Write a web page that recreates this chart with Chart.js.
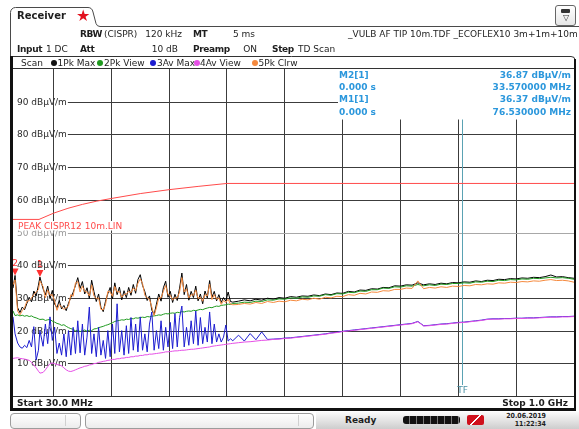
<!DOCTYPE html>
<html><head><meta charset="utf-8">
<script src="https://cdn.jsdelivr.net/npm/chart.js@4.4.0/dist/chart.umd.min.js"></script>
<style>
html,body{margin:0;padding:0;background:#fff;}
#wrap{position:relative;width:579px;height:429px;overflow:hidden;font-family:"DejaVu Sans",Verdana,sans-serif;background:#fff;}
#c{position:absolute;left:0;top:0;}
.t{position:absolute;font-size:9px;line-height:12px;height:12px;white-space:nowrap;color:#1e1e1e;}
.b{font-weight:bold;letter-spacing:-0.35px;}
.dot{position:absolute;width:6px;height:6px;border-radius:50%;top:59.5px;}
.sbox{position:absolute;top:413px;height:14px;border:1px solid #9c9c9c;border-radius:4px;background:linear-gradient(#ffffff,#ececec);}
.sdiv{position:absolute;top:415px;height:11px;border-left:1px solid #d0d0d0;}
.clk{position:absolute;right:33px;font-size:7px;line-height:9px;height:9px;font-weight:bold;white-space:nowrap;color:#1e1e1e;font-family:'DejaVu Sans Condensed','DejaVu Sans',sans-serif;}
</style></head>
<body><div id="wrap">
<canvas id="c" width="579" height="429"></canvas>

<!-- tab and header -->
<div class="t b" style="left:17px;top:10px;font-size:10px;letter-spacing:0;">Receiver</div>
<div class="t" style="left:76px;top:8px;font-size:16px;line-height:16px;height:16px;color:#e3121e;">★</div>
<div style="position:absolute;left:555px;top:5px;width:19px;height:19px;border:1px solid #666;border-radius:3px;background:linear-gradient(#fff,#e6e6e6);">
  <div style="position:absolute;left:5px;top:3px;width:9px;height:4px;background:#333;border-radius:1px;"></div>
  <div style="position:absolute;left:4px;top:7px;width:12px;font-size:8px;line-height:9px;color:#333;text-align:center;">▽</div>
</div>

<div class="t b" style="left:80px;top:28px;">RBW</div>
<div class="t" style="left:104px;top:28px;">(CISPR)</div>
<div class="t" style="right:397px;top:28px;">120 kHz</div>
<div class="t b" style="left:193px;top:28px;">MT</div>
<div class="t" style="right:324px;top:28px;">5 ms</div>
<div class="t" style="left:348px;top:28px;">_VULB AF TIP 10m.TDF _ECOFLEX10 3m+1m+10m</div>

<div class="t b" style="left:17px;top:42.5px;">Input</div>
<div class="t" style="left:46px;top:42.5px;">1 DC</div>
<div class="t b" style="left:80px;top:42.5px;">Att</div>
<div class="t" style="right:401px;top:42.5px;">10 dB</div>
<div class="t b" style="left:193px;top:42.5px;">Preamp</div>
<div class="t" style="right:322px;top:42.5px;">ON</div>
<div class="t b" style="left:272px;top:42.5px;">Step</div>
<div class="t" style="left:298px;top:42.5px;">TD Scan</div>

<!-- trace legend row -->
<div class="t" style="left:21px;top:56.5px;">Scan</div>
<div class="dot" style="left:51px;background:#111;"></div>
<div class="t" style="left:57.5px;top:56.5px;">1Pk Max</div>
<div class="dot" style="left:97px;background:#1f9a1f;"></div>
<div class="t" style="left:104px;top:56.5px;">2Pk View</div>
<div class="dot" style="left:150px;background:#1c1cd0;"></div>
<div class="t" style="left:157px;top:56.5px;">3Av Max</div>
<div class="dot" style="left:193.5px;background:#e64ee6;"></div>
<div class="t" style="left:200px;top:56.5px;">4Av View</div>
<div class="dot" style="left:252px;background:#f5893d;"></div>
<div class="t" style="left:258.5px;top:56.5px;">5Pk Clrw</div>

<!-- span row -->
<div class="t b" style="left:17px;top:396.5px;letter-spacing:0;">Start 30.0 MHz</div>
<div class="t b" style="right:11px;top:396.5px;letter-spacing:0;">Stop 1.0 GHz</div>

<!-- status bar -->
<div class="sbox" style="left:10px;width:69px;"></div>
<div class="sdiv" style="left:65px;"></div>
<div class="sbox" style="left:85px;width:227px;"></div>
<div class="sdiv" style="left:298px;"></div>
<div style="position:absolute;left:316px;top:412px;width:263px;height:17px;background:linear-gradient(#fbfbfb,#cdcdcd);"></div>
<div class="t b" style="left:345px;top:414px;letter-spacing:0;">Ready</div>
<div style="position:absolute;left:403px;top:416px;width:57px;height:8px;border-radius:3px;background:repeating-linear-gradient(90deg,#111 0px,#111 6px,#777 6px,#777 7px);"></div>
<div style="position:absolute;left:467px;top:415px;width:17px;height:10px;border-radius:2px;background:linear-gradient(135deg,#d0101c 45%,#fff 45%,#fff 55%,#d0101c 55%);"></div>
<div class="clk" style="top:411.5px;">20.06.2019</div>
<div class="clk" style="top:419.5px;">11:22:34</div>
</div>

<script>
// Sweep frequencies (MHz) shared by all five traces
const freqMHz = [
  30,33.57,38,42,46,50,54,58,62,66,70,74,
  76.53,82,86,90,94,98,102,106,110,114,118,122,
  126,130,134,138,142,146,150,154,158,162,166,170,
  174,178,182,186,190,194,198,202,206,210,214,218,
  222,226,230,234,238,242,246,250,254,258,262,266,
  270,274,278,282,286,290,294,298,302,306,310,314,
  318,322,326,330,334,338,342,346,350,354,358,362,
  366,370,374,378,382,386,390,394,398,402,406,410,
  420,430,440,450,460,470,480,490,500,510,520,530,
  540,550,560,570,580,590,600,610,620,630,640,650,
  660,670,680,690,700,710,720,730,740,750,760,770,
  780,790,800,810,820,830,840,850,860,870,880,890,
  900,910,920,930,940,950,960,970,980,990,1000
];

// Trace 1: peak detector, max hold (dBµV/m)
const pkMax = [
  33.0,36.87,27.0,25.5,27.2,26.4,28.3,30.2,28.8,32.1,30.6,33.9,
  36.37,32.8,30.9,33.6,29.8,32.3,28.1,27.0,29.2,26.6,27.7,26.1,
  28.4,30.1,31.7,33.8,36.2,32.9,35.0,31.2,33.1,29.8,35.4,31.9,
  28.9,31.2,27.1,25.8,29.0,31.3,33.2,29.7,34.6,31.0,33.3,29.4,
  32.2,30.1,33.2,30.8,34.1,31.4,35.6,37.1,33.8,31.9,29.2,30.6,
  26.3,24.9,28.1,31.2,29.0,33.1,35.1,30.2,32.0,28.6,31.1,29.2,
  33.0,37.6,31.0,34.1,29.3,32.0,30.1,33.6,29.1,31.2,28.2,32.1,
  30.0,35.3,30.2,32.0,29.1,31.0,28.6,30.1,29.0,31.8,28.9,28.7,
  29.0,29.4,29.1,29.6,29.3,29.9,29.6,30.1,29.9,30.4,30.2,30.6,
  30.5,30.9,30.7,31.2,31.0,31.5,31.4,32.0,31.8,32.4,32.3,32.8,
  32.7,33.2,33.1,33.7,33.6,34.0,33.9,34.6,34.0,34.3,34.1,34.5,
  34.3,34.7,34.6,34.9,34.8,35.2,35.0,35.4,35.3,35.7,35.6,35.9,
  35.8,36.1,36.0,36.3,36.2,36.5,37.0,36.4,36.5,36.2,36.0
];

// Trace 2: peak detector, view
const pkView = [
  26.0,24.6,24.8,24.5,24.7,24.4,24.6,24.3,24.5,24.1,23.9,23.6,
  23.4,23.5,23.1,23.3,23.4,22.9,22.6,22.2,22.0,21.6,21.8,21.3,
  20.9,20.6,20.4,19.9,20.1,19.7,19.9,20.2,19.8,20.1,20.0,20.5,
  20.6,20.9,21.1,21.3,21.6,21.8,22.1,22.4,22.8,23.0,23.1,23.3,
  23.2,23.5,23.4,23.7,23.6,23.9,23.8,24.0,24.1,24.0,24.3,24.2,
  24.4,24.5,24.6,24.8,24.7,25.0,25.2,25.1,25.3,25.4,25.3,25.6,
  25.5,25.8,25.7,25.9,26.0,25.9,26.2,26.1,26.3,26.5,26.4,26.7,
  26.9,27.1,27.0,27.3,27.5,27.4,27.7,27.8,27.9,28.1,28.0,28.3,
  28.4,28.7,28.6,29.0,28.9,29.4,29.3,29.7,29.6,30.0,29.9,30.3,
  30.2,30.6,30.5,31.0,30.8,31.3,31.2,31.7,31.6,32.1,32.0,32.5,
  32.5,33.0,32.9,33.4,33.3,33.7,33.6,34.1,33.7,34.0,33.8,34.2,
  34.1,34.4,34.4,34.6,34.5,34.9,34.8,35.1,35.0,35.4,35.3,35.6,
  35.5,35.8,35.7,36.0,35.9,36.1,36.3,36.1,36.2,36.0,35.7
];

// Trace 3: average detector, max hold
const avMax = [
  24.2,19.0,16.2,15.0,14.6,15.5,14.8,17.0,15.0,21.2,11.0,14.0,
  20.0,15.2,22.0,16.0,24.2,17.0,21.0,13.0,16.2,12.5,19.0,12.0,
  20.0,12.5,21.0,13.0,23.0,13.2,22.0,12.5,18.0,27.2,13.0,19.0,
  12.0,21.0,12.5,17.0,11.5,20.0,12.0,22.0,13.0,28.2,13.5,20.0,
  12.5,21.5,13.0,24.0,14.0,22.0,13.5,24.2,14.0,19.0,13.5,22.0,
  25.7,14.0,20.0,14.5,23.0,14.0,21.0,15.0,22.5,14.5,25.2,15.0,
  24.0,27.5,15.0,21.0,15.5,23.0,16.0,26.0,15.5,24.0,16.0,21.0,
  16.5,25.7,16.0,22.0,16.5,19.0,16.5,18.0,21.7,16.8,17.5,16.9,
  18.6,16.8,19.1,17.2,19.6,17.3,17.4,17.5,17.7,17.8,18.0,18.2,
  18.4,18.6,18.8,19.0,19.3,19.5,19.8,20.0,20.2,20.4,20.6,20.8,
  21.0,21.2,21.4,21.6,21.8,22.0,22.2,22.8,21.5,21.6,21.8,22.0,
  22.1,22.3,22.5,22.6,22.8,23.0,23.2,23.5,23.6,23.6,23.7,23.7,
  23.8,23.8,23.9,23.9,24.0,24.1,24.2,24.2,24.3,24.3,24.4
];

// Trace 4: average detector, view
const avView = [
  11.5,11.6,11.7,11.5,11.4,11.3,11.1,10.9,10.3,9.5,8.6,7.6,
  7.0,7.2,8.0,9.0,9.9,10.1,9.9,9.6,9.5,9.2,8.6,8.0,
  7.6,7.5,7.7,8.0,8.3,8.6,8.8,9.1,9.2,9.5,9.6,9.9,
  10.0,10.3,10.4,10.6,10.7,10.9,11.0,11.2,11.2,11.4,11.4,11.6,
  11.6,11.8,11.8,12.0,12.0,12.2,12.2,12.4,12.4,12.6,12.6,12.8,
  12.8,12.9,13.0,13.1,13.2,13.3,13.5,13.5,13.6,13.7,13.8,13.8,
  13.9,14.0,14.0,14.1,14.2,14.3,14.3,14.4,14.5,14.6,14.7,14.8,
  14.9,15.0,15.2,15.3,15.4,15.5,15.6,15.7,15.8,15.9,16.0,16.1,
  16.3,16.5,16.6,16.8,17.0,17.1,17.3,17.4,17.6,17.7,17.9,18.1,
  18.3,18.5,18.7,18.9,19.2,19.4,19.7,19.9,20.1,20.3,20.5,20.7,
  20.9,21.1,21.3,21.5,21.7,21.9,22.1,22.7,21.4,21.5,21.7,21.9,
  22.0,22.2,22.4,22.5,22.7,22.9,23.1,23.4,23.5,23.5,23.6,23.6,
  23.7,23.7,23.8,23.8,23.9,24.0,24.1,24.1,24.2,24.2,24.3
];

// Trace 5: peak detector, clear/write
const pkClrw = [
  34.0,35.5,26.0,24.8,26.1,27.0,29.0,29.1,30.0,31.0,31.8,32.5,
  35.2,33.5,30.0,32.4,30.8,31.0,29.0,26.2,28.0,27.2,26.5,27.0,
  27.5,31.0,30.5,34.6,35.0,31.8,33.6,32.0,31.8,30.6,34.0,30.5,
  29.8,30.0,26.5,26.3,28.0,32.0,31.8,30.5,33.5,31.8,32.0,30.2,
  31.0,31.2,32.0,31.6,33.0,32.2,34.5,35.8,34.4,30.8,30.0,29.6,
  27.2,24.6,27.0,30.0,30.0,32.0,33.8,31.0,30.8,29.4,30.0,30.0,
  31.8,36.2,31.8,32.8,30.0,31.0,30.8,32.4,29.8,30.2,29.0,31.0,
  30.6,34.2,29.5,31.0,29.6,30.0,28.0,29.2,28.6,29.6,28.1,27.9,
  28.0,28.3,28.1,28.6,28.3,28.9,28.6,29.0,28.8,29.3,29.1,29.6,
  29.4,29.9,29.6,30.2,30.0,30.5,30.4,31.0,30.8,31.4,31.2,31.8,
  31.7,32.2,32.1,32.6,32.6,33.0,32.9,35.2,32.8,33.2,33.0,33.4,
  33.2,33.6,33.5,33.8,33.7,34.1,34.0,34.3,34.2,34.6,34.5,34.8,
  34.7,35.0,34.9,35.2,35.1,35.4,35.6,35.3,35.4,35.2,34.8
];

// Limit line PEAK CISPR12 10m
const limitFreqMHz = [30, 75, 100, 125, 150, 175, 200, 250, 300, 350, 400, 1000];
const limitLevel   = [54, 54, 55.9, 57.4, 58.6, 59.6, 60.4, 61.9, 63.1, 64.1, 65, 65];

// Axis grid
const levelTicks = [10, 20, 30, 40, 50, 60, 70, 80, 90];
const freqGridMHz = [100, 200, 300, 400, 500, 600, 700, 800, 900];

// Markers
const markerNames   = ['M1', 'M2'];
const markerFreqMHz = [76.53, 33.57];
const markerLevel   = [36.37, 36.87];
const markerTime    = [0.000, 0.000];
const transducerFreqMHz = 807;

const pts = (xs, ys) => xs.map((x, i) => ({ x, y: ys[i] }));
const FONT = '"DejaVu Sans", Verdana, sans-serif';
const READOUT = '#2b97dc';

const overlay = {
  id: 'receiverOverlay',
  beforeDatasetsDraw(chart) {
    const { ctx, chartArea: a, scales: { x, y } } = chart;
    ctx.save();
    ctx.font = '9px ' + FONT;
    ctx.textBaseline = 'middle';
    ctx.textAlign = 'left';
    // horizontal grid with level labels
    levelTicks.forEach(v => {
      const py = Math.round(y.getPixelForValue(v)) + 0.5;
      const txt = v + ' dBµV/m';
      const grey = v === 50;
      ctx.fillStyle = grey ? '#9a9a9a' : '#2a2a2a';
      ctx.fillText(txt, a.left + 4, py);
      const w = ctx.measureText(txt).width;
      ctx.strokeStyle = grey ? '#a8a8a8' : '#3c3c3c';
      ctx.lineWidth = 1;
      ctx.beginPath();
      ctx.moveTo(a.left + 4 + w + 1, py);
      ctx.lineTo(a.right, py);
      ctx.stroke();
    });
    // limit line name
    ctx.fillStyle = '#fff';
    ctx.fillRect(a.left + 3, 221, 108, 9.5);
    ctx.fillStyle = '#ff4b4b';
    ctx.fillText('PEAK CISPR12 10m.LIN', a.left + 5, 226.3);

    // transducer frequency line
    const tx = Math.round(x.getPixelForValue(transducerFreqMHz)) + 0.5;
    ctx.strokeStyle = '#5aa2b3';
    ctx.beginPath();
    ctx.moveTo(tx, a.top + 50);
    ctx.lineTo(tx, 385);
    ctx.stroke();
    ctx.fillStyle = '#4a90a3';
    ctx.textAlign = 'center';
    ctx.fillText('TF', tx, 390.7);

    // marker readout panel
    ctx.fillStyle = '#fff';
    ctx.fillRect(338, a.top, a.right - 338, 50.5);
    ctx.font = 'bold 9px ' + FONT;
    ctx.fillStyle = READOUT;
    const rows = [75.5, 87.7, 99.9, 112.2];
    [1, 0].forEach((m, k) => {
      ctx.textAlign = 'left';
      ctx.fillText(markerNames[m] + '[1]', 339, rows[2 * k]);
      ctx.fillText(markerTime[m].toFixed(3) + ' s', 339, rows[2 * k + 1]);
      ctx.textAlign = 'right';
      ctx.fillText(markerLevel[m].toFixed(2) + ' dBµV/m', 571, rows[2 * k]);
      ctx.fillText(markerFreqMHz[m].toFixed(6) + ' MHz', 571, rows[2 * k + 1]);
    });
    ctx.restore();
  },
  afterDatasetsDraw(chart) {
    const { ctx, scales: { x, y } } = chart;
    ctx.save();
    ctx.font = '9px ' + FONT;
    ctx.textAlign = 'center';
    ctx.textBaseline = 'middle';
    markerFreqMHz.forEach((f, i) => {
      const px = x.getPixelForValue(f), py = y.getPixelForValue(markerLevel[i]);
      ctx.fillStyle = '#ff3030';
      ctx.beginPath();
      ctx.moveTo(px - 3.5, py - 7);
      ctx.lineTo(px + 3.5, py - 7);
      ctx.lineTo(px, py);
      ctx.closePath();
      ctx.fill();
      ctx.fillText(markerNames[i].slice(1), px, py - 12);
    });
    ctx.restore();
  },
  afterDraw(chart) {
    const { ctx, chartArea: a } = chart;
    ctx.save();
    ctx.strokeStyle = '#4a4a4a';
    ctx.lineWidth = 1;
    // tab outline
    ctx.beginPath();
    ctx.moveTo(10.5, 57);
    ctx.lineTo(10.5, 13);
    ctx.arcTo(10.5, 7.5, 16, 7.5, 5);
    ctx.lineTo(88, 7.5);
    ctx.quadraticCurveTo(92, 7.5, 93, 12);
    ctx.lineTo(96, 23.5);
    ctx.quadraticCurveTo(97, 26.5, 100, 26.5);
    ctx.lineTo(579, 26.5);
    ctx.stroke();
    // diagram frame
    ctx.strokeStyle = '#333';
    ctx.beginPath();
    ctx.moveTo(12, 56.5); ctx.lineTo(571, 56.5);
    ctx.quadraticCurveTo(575, 56.5, 575, 60);
    ctx.stroke();
    ctx.beginPath();
    ctx.moveTo(12, a.top - 0.5); ctx.lineTo(a.right, a.top - 0.5);
    ctx.moveTo(12, a.bottom + 0.5); ctx.lineTo(a.right, a.bottom + 0.5);
    ctx.stroke();
    ctx.fillStyle = '#111';
    ctx.fillRect(10, 56, 3, 355);
    ctx.fillRect(10, 408, 566, 3);
    ctx.fillRect(574, 59, 2, 352);
    // resize grip
    ctx.strokeStyle = '#8a8a8a';
    for (let k = 0; k < 4; k++) {
      ctx.beginPath();
      ctx.moveTo(569 + k * 3, 429);
      ctx.lineTo(579, 419 + k * 3);
      ctx.stroke();
    }
    ctx.restore();
  }
};

const trace = (label, ys, color, order) => ({
  label, data: pts(freqMHz, ys), borderColor: color, borderWidth: 1,
  pointRadius: 0, tension: 0, fill: false, order
});

new Chart(document.getElementById('c'), {
  type: 'line',
  data: {
    datasets: [
      { label: 'PEAK CISPR12 10m.LIN', data: pts(limitFreqMHz, limitLevel), borderColor: '#ff4b4b',
        borderWidth: 1, pointRadius: 0, tension: 0, fill: false, order: 0 },
      trace('4Av View', avView, '#e64ee6', 1),
      trace('3Av Max', avMax, '#1c1cd0', 2),
      trace('5Pk Clrw', pkClrw, '#f5893d', 3),
      trace('2Pk View', pkView, '#1f9a1f', 4),
      trace('1Pk Max', pkMax, '#000000', 5)
    ]
  },
  options: {
    responsive: false,
    animation: false,
    devicePixelRatio: 1,
    layout: { padding: { left: 13, right: 5, top: 69, bottom: 33 } },
    plugins: { legend: { display: false }, tooltip: { enabled: false } },
    scales: {
      x: {
        type: 'linear', min: 30, max: 1000,
        afterBuildTicks: s => { s.ticks = freqGridMHz.map(v => ({ value: v })); },
        ticks: { display: false },
        grid: { color: '#3c3c3c', lineWidth: 1, drawTicks: false },
        border: { display: false }
      },
      y: { type: 'linear', min: 0, max: 100, display: false }
    }
  },
  plugins: [overlay]
});
</script>
</body></html>
